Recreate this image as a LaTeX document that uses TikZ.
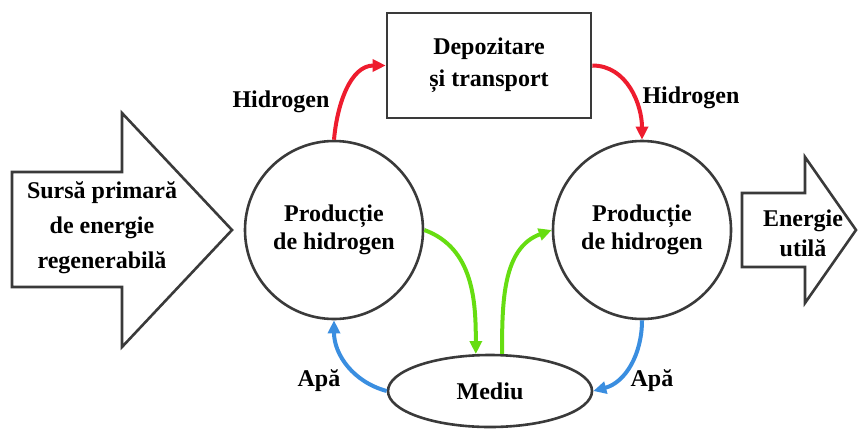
\documentclass[tikz,border=0pt]{standalone}
\usepackage{fontspec}
\setmainfont{Liberation Serif}
\usetikzlibrary{arrows.meta,shapes.geometric}
\definecolor{outl}{HTML}{3A3A3A}
\definecolor{hred}{HTML}{EE1C2E}
\definecolor{hgreen}{HTML}{66DD11}
\definecolor{hblue}{HTML}{3A8EE0}
\tikzset{
  txt/.style={font=\fontsize{24}{30}\selectfont\bfseries, align=center, text=black},
  shapeline/.style={draw=outl, line width=2.6pt, line join=miter},
  proc/.style={circle, shapeline, minimum size=178pt, inner sep=0pt, txt, font=\fontsize{24}{28}\selectfont\bfseries},
  flow/.style={line width=4pt, -{Triangle[length=13pt,width=12pt]}},
}
\begin{document}
\begin{tikzpicture}[x=1pt,y=-1pt]
\useasboundingbox (0,0) rectangle (858,429);
% big arrows
\draw[shapeline] (12,172) -- (122,172) -- (122,113) -- (232,230) -- (122,347) -- (122,287) -- (12,287) -- cycle;
\node[txt, font=\fontsize{24}{35}\selectfont\bfseries] (src) at (102,228) {Sursă primară\\de energie\\regenerabilă};
\draw[shapeline] (742,193) -- (805,193) -- (805,157) -- (856,230) -- (805,303) -- (805,267) -- (742,267) -- cycle;
\node[txt] (use) at (803,233) {Energie\\utilă};
% nodes
\node[proc] (c1) at (334,230) {Producție\\de hidrogen};
\node[proc] (c2) at (642,230) {Producție\\de hidrogen};
\node[rectangle, shapeline, minimum width=204pt, minimum height=105pt, inner sep=0pt, txt, font=\fontsize{24}{32}\selectfont\bfseries] (box) at (489,65.5) {Depozitare\\și transport};
\node[ellipse, shapeline, minimum width=204pt, minimum height=72pt, inner sep=0pt, txt] (env) at (490,391) {Mediu};
% labels
\node[txt] (h1) at (281,102) {Hidrogen};
\node[txt] (h2) at (691,98) {Hidrogen};
\node[txt] (a1) at (319,381) {Apă};
\node[txt] (a2) at (652,381) {Apă};
% connectors
\draw[flow, hred] (c1.north) to[out=85,in=180] (box.west);
\draw[flow, hred] (box.east) to[out=0,in=90] (c2.north);
\draw[flow, hgreen] (c1.east) to[out=-20,in=90] (env.111);
\draw[flow, hgreen] (env.72) to[out=90,in=200] (c2.west);
\draw[flow, hblue] (env.west) to[out=165,in=-90] (c1.south);
\draw[flow, hblue] (c2.south) to[out=-90,in=15] (env.east);
\end{tikzpicture}
\end{document}
